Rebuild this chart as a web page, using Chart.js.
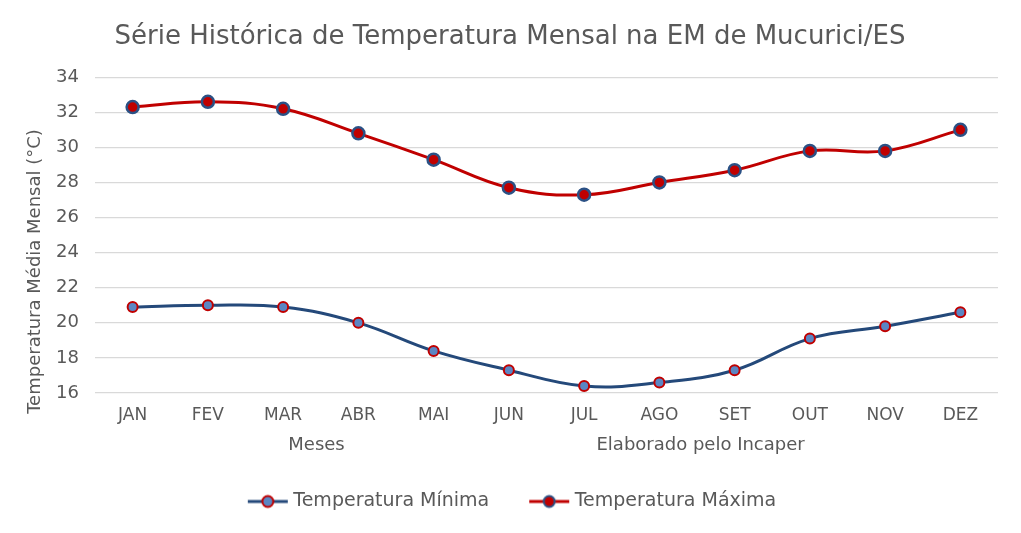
<!DOCTYPE html>
<html>
<head>
<meta charset="utf-8">
<script src="https://cdn.jsdelivr.net/npm/chart.js@4"></script>
<style>
  html, body { margin: 0; padding: 0; background: #fff; }
  #wrap { width: 1021px; height: 533px; position: relative; }
</style>
</head>
<body>
<div id="wrap"><canvas id="tempChart"></canvas></div>
<script>
var meses = ["JAN", "FEV", "MAR", "ABR", "MAI", "JUN", "JUL", "AGO", "SET", "OUT", "NOV", "DEZ"];
var tempMinima = [20.9, 21.0, 20.9, 20.0, 18.4, 17.3, 16.4, 16.6, 17.3, 19.1, 19.8, 20.6];
var tempMaxima = [32.3, 32.6, 32.2, 30.8, 29.3, 27.7, 27.3, 28.0, 28.7, 29.8, 29.8, 31.0];

var fonte = "DejaVu Sans";
var cinza = "#595959";
var tituloY = "Temperatura Média Mensal (°C)";

// marcador da legenda: linha com círculo no meio
// (canvas mais largo que a caixa, para a linha encostar no texto)
function legendMarker(lineColor, fillColor, borderColor) {
    var c = document.createElement("canvas");
    c.width = 88; c.height = 16;
    var g = c.getContext("2d");
    g.strokeStyle = lineColor;
    g.lineWidth = 3;
    g.beginPath(); g.moveTo(28, 8); g.lineTo(68, 8); g.stroke();
    g.fillStyle = fillColor;
    g.strokeStyle = borderColor;
    g.lineWidth = 2;
    g.beginPath(); g.arc(48, 8, 5.5, 0, Math.PI * 2); g.fill(); g.stroke();
    return c;
}

// título do eixo Y centrado na altura do gráfico, como no Excel
var yTitlePlugin = {
    id: "yTitle",
    afterDraw: function(chart) {
        var c = chart.ctx;
        c.save();
        c.translate(35, chart.height / 2 + 5);
        c.rotate(-Math.PI / 2);
        c.font = "18px " + fonte;
        c.fillStyle = cinza;
        c.textAlign = "center";
        c.textBaseline = "middle";
        c.fillText(tituloY, 0, 0);
        c.restore();
    }
};

document.addEventListener("DOMContentLoaded", function() {
    var ctx = document.getElementById("tempChart").getContext("2d");

    var data = {
        labels: meses,
        datasets: [
            {
                label: "Temperatura Mínima",
                data: tempMinima,
                borderColor: "#24497A",
                backgroundColor: "#5B86C3",
                pointBackgroundColor: "#5B86C3",
                pointBorderColor: "#C00000",
                pointBorderWidth: 2,
                pointRadius: 5,
                borderWidth: 3,
                tension: 0.4,
                fill: false,
                marker: legendMarker("#24497A", "#5B86C3", "#C00000")
            },
            {
                label: "Temperatura Máxima",
                data: tempMaxima,
                borderColor: "#C00000",
                backgroundColor: "#C00000",
                pointBackgroundColor: "#C00000",
                pointBorderColor: "#2B5185",
                pointBorderWidth: 2.5,
                pointRadius: 6,
                borderWidth: 3,
                tension: 0.4,
                fill: false,
                marker: legendMarker("#C00000", "#C00000", "#2B5185")
            }
        ]
    };

    var options = {
        responsive: true,
        maintainAspectRatio: false,
        animation: false,
        layout: { padding: { left: 22, right: 23, top: 12, bottom: 12 } },
        plugins: {
            title: {
                display: true,
                text: "Série Histórica de Temperatura Mensal na EM de Mucurici/ES",
                color: cinza,
                font: { family: fonte, size: 26, weight: "normal" },
                padding: { top: 10, bottom: 24 }
            },
            legend: {
                position: "bottom",
                labels: {
                    color: cinza,
                    font: { family: fonte, size: 19 },
                    usePointStyle: true,
                    pointStyleWidth: 40,
                    padding: 36,
                    generateLabels: function(chart) {
                        return chart.data.datasets.map(function(ds, i) {
                            return {
                                text: ds.label,
                                pointStyle: ds.marker,
                                fontColor: cinza,
                                datasetIndex: i,
                                hidden: false,
                                lineWidth: 0
                            };
                        });
                    }
                }
            },
            tooltip: { enabled: false }
        },
        scales: {
            x: {
                offset: true,
                grid: { display: false },
                border: { display: false },
                ticks: { color: cinza, font: { family: fonte, size: 17 }, padding: 4 },
                title: {
                    display: true,
                    text: "Meses                                            Elaborado pelo Incaper",
                    color: cinza,
                    font: { family: fonte, size: 18 },
                    padding: { top: 5, bottom: 0 }
                }
            },
            y: {
                min: 16,
                max: 34,
                afterFit: function(scale) { scale.width = 73; },
                grid: { color: "#D9D9D9", lineWidth: 1.3, drawTicks: false },
                border: { display: false },
                ticks: { stepSize: 2, color: cinza, font: { family: fonte, size: 18 }, padding: 16 }
            }
        }
    };

    new Chart(ctx, { type: "line", data: data, options: options, plugins: [yTitlePlugin] });
});
</script>
</body>
</html>
